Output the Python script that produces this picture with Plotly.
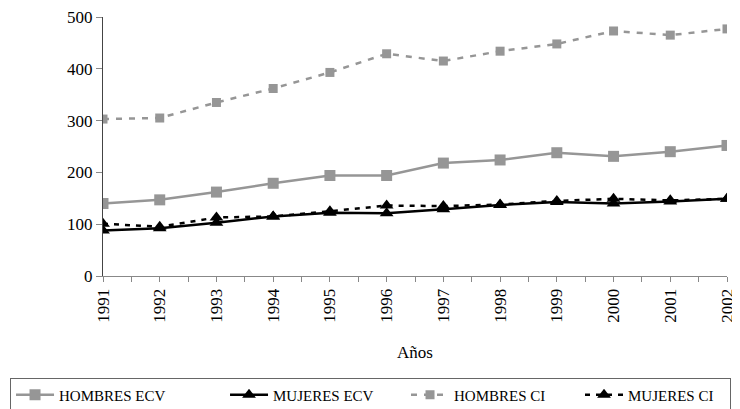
import plotly.graph_objects as go

years = [1991, 1992, 1993, 1994, 1995, 1996, 1997, 1998, 1999, 2000, 2001, 2002]
hombres_ecv = [140, 147, 162, 179, 194, 194, 218, 224, 238, 231, 240, 252]
mujeres_ecv = [88, 92, 103, 115, 122, 121, 129, 137, 143, 140, 144, 149]
hombres_ci = [303, 305, 335, 362, 393, 429, 415, 434, 448, 473, 465, 477]
mujeres_ci = [101, 95, 113, 115, 125, 136, 135, 138, 145, 149, 146, 149]

GRAY = "#969696"
FONT = "Liberation Serif"

fig = go.Figure()
fig.add_trace(go.Scatter(x=years, y=hombres_ecv, name="HOMBRES ECV", mode="lines+markers",
                         line=dict(color=GRAY, width=2.5), legendwidth=161,
                         marker=dict(symbol="square", size=11, color=GRAY)))
fig.add_trace(go.Scatter(x=years, y=mujeres_ecv, name="MUJERES ECV", mode="lines+markers",
                         line=dict(color="black", width=2.5), legendwidth=128,
                         marker=dict(symbol="triangle-up", size=12, color="black")))
fig.add_trace(go.Scatter(x=years, y=hombres_ci, name="HOMBRES CI", mode="lines+markers",
                         line=dict(color=GRAY, width=2.5, dash="6px,7px"), legendwidth=121,
                         marker=dict(symbol="square", size=9, color=GRAY)))
fig.add_trace(go.Scatter(x=years, y=mujeres_ci, name="MUJERES CI", mode="lines+markers",
                         line=dict(color="black", width=2.5, dash="5px,6px"), legendwidth=97,
                         marker=dict(symbol="triangle-up", size=12, color="black")))

# page body has an 8px margin: figure is sized/positioned to compensate
fig.update_layout(
    width=732, height=401,
    margin=dict(l=95, r=13, t=9, b=133, autoexpand=False),
    paper_bgcolor="white", plot_bgcolor="white",
    font=dict(family=FONT, color="black", size=15),
    showlegend=True,
    legend=dict(orientation="h", x=-0.149, xanchor="left", y=-0.392, yanchor="top",
                bordercolor="#666", borderwidth=1, font=dict(size=15, family=FONT),
                itemwidth=38, tracegroupgap=0),
    xaxis=dict(range=[1991, 2002], tickmode="array", tickvals=years,
               ticktext=[str(y) for y in years], tickangle=-90,
               showgrid=False, zeroline=False, showline=True, linecolor="#888", linewidth=1,
               ticks="outside", ticklen=5, tickcolor="#888",
               minor=dict(dtick=0.5, tick0=1991, ticks="outside", ticklen=5, tickcolor="#888"),
               tickfont=dict(size=17, family=FONT),
               title=dict(text="Años", font=dict(size=17, family=FONT), standoff=24)),
    yaxis=dict(range=[0, 500], dtick=100, showgrid=False, zeroline=False,
               showline=True, linecolor="#444", linewidth=1, ticklabeloverflow="allow",
               ticks="outside", ticklen=6, tickcolor="#888",
               tickfont=dict(size=17, family=FONT)),
)

fig.write_html("out.html")
